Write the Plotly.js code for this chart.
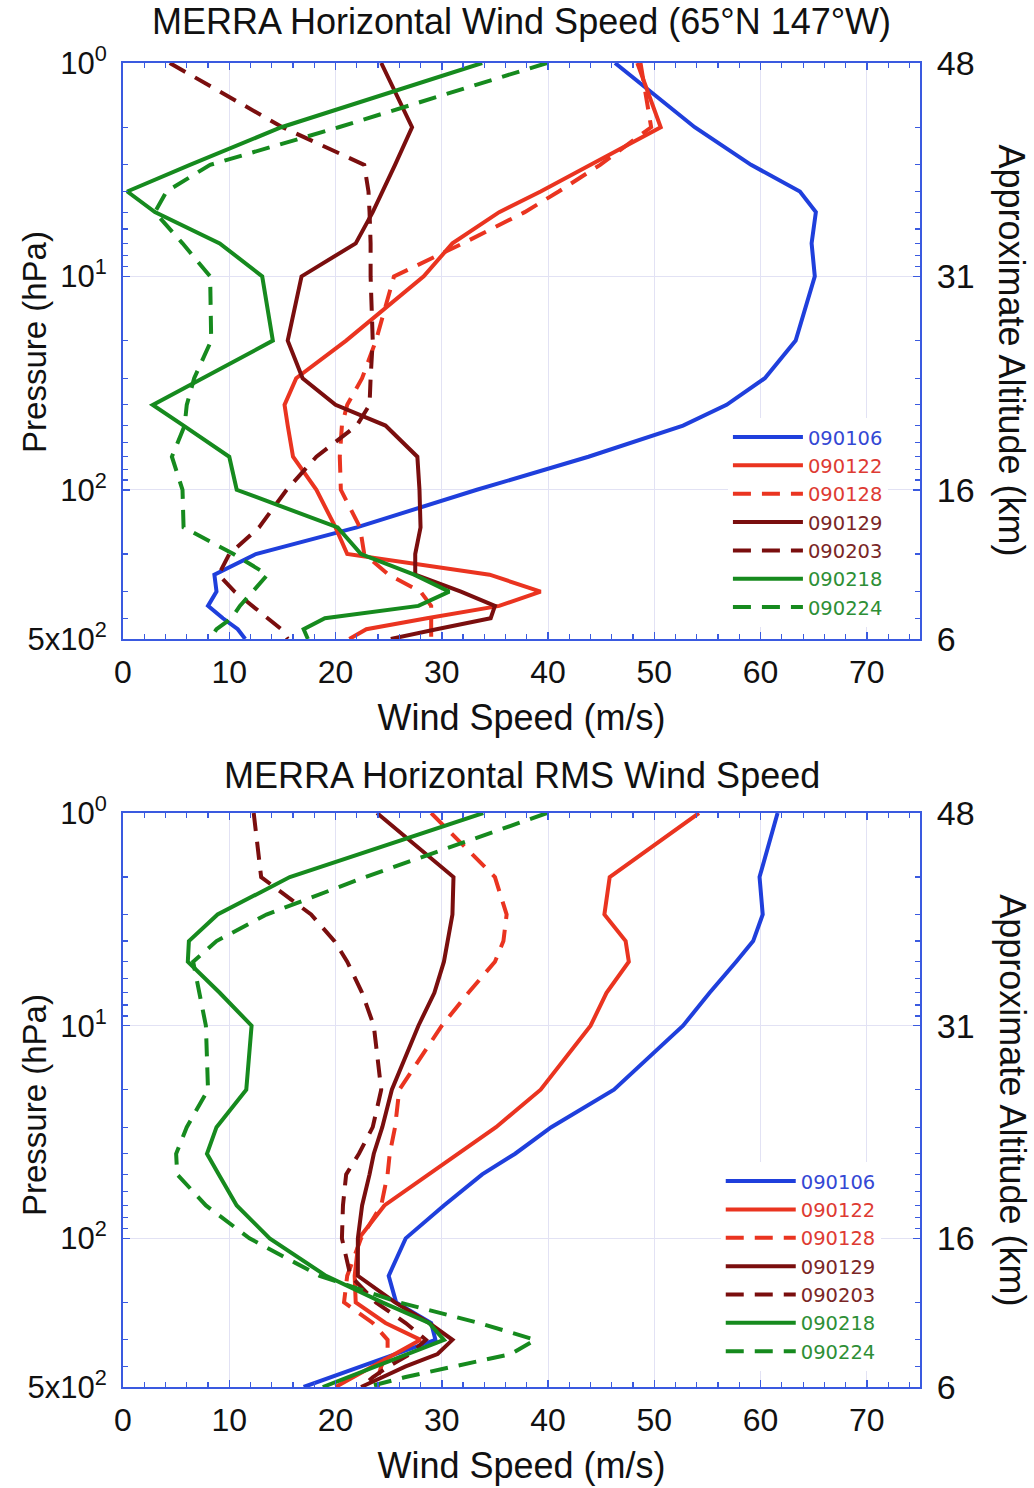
<!DOCTYPE html>
<html>
<head>
<meta charset="utf-8">
<script src="https://cdn.plot.ly/plotly-3.0.1.min.js"></script>
<style>html,body{margin:0;padding:0;background:#fff;}</style>
</head>
<body>
<div id="chart" style="width:1034px;height:1488px;"></div>
<script>
// Pressure levels (hPa)
const pressure = [1,2,3,4,5,7,10,20,30,40,50,70,100,150,200,250,300,350,400,450,500];

// Series names
const seriesNames = ['090106','090122','090128','090129','090203','090218','090224'];

// Top panel: MERRA horizontal wind speed (m/s)
const wind_090106 = [46.3,53.8,59.1,63.7,65.2,64.8,65.1,63.3,60.4,56.8,52.7,43.8,33.3,22.0,12.5,8.6,8.8,8.0,9.4,10.8,11.5];
const wind_090122 = [48.4,50.6,44.0,39.3,35.4,31.0,28.3,21.0,16.3,15.2,15.5,16.0,18.2,20.0,21.1,34.5,39.3,35.4,28.6,22.9,21.3];
const wind_090128 = [48.7,49.7,44.9,41.0,37.8,32.0,25.5,23.8,22.5,21.1,20.6,20.4,20.5,22.3,22.7,25.0,28.0,29.0,29.0,29.0,29.0];
const wind_090129 = [24.3,27.2,25.6,24.4,23.5,21.9,16.8,15.5,16.9,20.0,24.7,27.7,27.9,28.0,27.5,27.5,31.8,35.0,34.6,29.5,25.2];
const wind_090203 = [4.4,15.0,22.7,23.1,23.2,23.3,23.3,23.5,23.3,23.2,22.0,18.2,15.4,12.8,10.0,9.0,10.5,12.2,13.6,14.9,15.5];
const wind_090218 = [33.8,14.9,6.3,0.4,3.0,9.1,13.1,14.1,7.5,2.8,5.7,10.0,10.7,20.2,22.4,27.4,30.7,27.8,19.0,17.0,17.4];
const wind_090224 = [39.9,20.3,8.2,4.1,3.0,5.6,8.2,8.3,6.7,6.0,5.8,4.6,5.6,5.7,10.4,13.6,12.2,11.0,10.2,8.8,8.2];

// Bottom panel: MERRA horizontal RMS wind speed (m/s)
const rms_090106 = [61.6,59.9,60.2,59.3,57.7,55.2,52.7,46.2,40.3,36.9,33.8,30.2,26.6,25.0,25.7,29.0,29.4,25.7,22.5,19.7,17.0];
const rms_090122 = [54.2,45.8,45.3,47.3,47.6,45.5,44.0,39.3,35.1,31.5,28.8,24.6,22.2,21.8,21.9,24.7,28.0,25.6,23.5,21.7,20.0];
const rms_090128 = [29.0,35.0,36.1,35.8,35.0,32.5,30.0,26.0,25.6,25.1,24.9,24.3,22.4,21.1,20.8,23.5,24.9,24.9,24.3,24.0,24.0];
const rms_090129 = [23.9,31.1,31.0,30.5,30.2,29.3,27.8,25.3,24.4,23.6,23.2,22.5,22.1,22.1,25.6,28.8,31.0,29.6,26.6,24.4,22.4];
const rms_090203 = [12.3,13.0,17.7,19.9,21.1,22.5,23.6,24.3,23.5,22.2,21.0,20.7,20.6,21.4,23.8,26.6,28.5,27.0,25.0,23.5,22.5];
const rms_090218 = [33.9,15.7,8.9,6.2,6.1,9.1,12.1,11.6,8.8,7.9,9.0,10.7,13.8,19.1,24.4,28.8,30.2,26.8,23.9,21.3,18.8];
const rms_090224 = [39.9,22.8,13.5,8.8,6.6,7.2,7.8,8.0,6.0,5.0,5.1,7.8,11.9,18.5,26.0,33.5,38.8,36.5,31.0,26.5,23.0];

// Axis tick labels
const pressureTickVals = [1,10,100,500];
const pressureTickText = ['10<sup>0</sup>','10<sup>1</sup>','10<sup>2</sup>','5x10<sup>2</sup>'];
const altitudeTickText = ['48','31','16','6'];
const pressureMinorVals = [2,3,4,5,6,7,8,9,20,30,40,50,60,70,80,90,200,300,400];

const topSeries = [wind_090106,wind_090122,wind_090128,wind_090129,wind_090203,wind_090218,wind_090224];
const botSeries = [rms_090106,rms_090122,rms_090128,rms_090129,rms_090203,rms_090218,rms_090224];

// Styles
const colors = ['#1f3fdc','#ea3420','#ea3420','#7a0e0e','#7a0e0e','#168a1e','#168a1e'];
const textColors = ['#3448d4','#de3b33','#de3b33','#7a2626','#7a2626','#2e8f36','#2e8f36'];
const dashes = ['solid','solid','18px,11px','solid','18px,11px','solid','18px,11px'];
const BLUE = '#3a5ae0';
const GRID = '#e2e2f4';
const FONT = 'Liberation Sans, Arial, sans-serif';

const traces = [];
// the last series of each panel is drawn on the right-hand (altitude) axis,
// which shares the identical log pressure scale, so that axis gets rendered.
function addPanel(series, xa, ya, yaRight, legendId) {
  series.forEach((vals, i) => {
    traces.push({
      type: 'scatter', mode: 'lines',
      x: vals, y: pressure,
      xaxis: xa, yaxis: (i === series.length - 1) ? yaRight : ya,
      legend: legendId,
      name: '<span style="color:' + textColors[i] + '">' + seriesNames[i] + '</span>',
      line: {color: colors[i], width: 4, dash: dashes[i]},
      hoverinfo: 'x+y+name'
    });
  });
}
addPanel(topSeries, 'x', 'y', 'y3', 'legend');
addPanel(botSeries, 'x2', 'y2', 'y4', 'legend2');

const logRange = [Math.log10(500), 0];

function xAxis(anchor) {
  return {
    domain: [0, 1], anchor: anchor, range: [0, 75], autorange: false,
    tick0: 0, dtick: 10, ticks: 'inside', ticklen: 7, tickwidth: 1.5, tickcolor: BLUE,
    showline: true, linecolor: BLUE, linewidth: 2, mirror: 'ticks',
    showgrid: true, gridcolor: GRID, gridwidth: 1, zeroline: false,
    minor: {dtick: 2, ticks: 'inside', ticklen: 5, tickwidth: 1.2, tickcolor: BLUE, showgrid: false},
    tickfont: {family: FONT, size: 32, color: '#111'},
    ticklabelstandoff: 4,
    title: {text: 'Wind Speed (m/s)', font: {family: FONT, size: 36, color: '#111'}, standoff: 15},
    automargin: false
  };
}
function yAxis(domain, anchor) {
  return {
    domain: domain, anchor: anchor, type: 'log', range: logRange, autorange: false,
    tickmode: 'array', tickvals: pressureTickVals, ticktext: pressureTickText,
    ticks: 'inside', ticklen: 7, tickwidth: 1.5, tickcolor: BLUE,
    showline: true, linecolor: BLUE, linewidth: 2, mirror: 'ticks',
    showgrid: true, gridcolor: GRID, gridwidth: 1, zeroline: false,
    minor: {tickmode: 'array', tickvals: pressureMinorVals, ticks: 'inside', ticklen: 5, tickwidth: 1.2, tickcolor: BLUE, showgrid: false},
    tickfont: {family: FONT, size: 31, color: '#111'},
    ticklabelstandoff: 8,
    automargin: false
  };
}
function yRight(over, anchor) {
  return {
    overlaying: over, anchor: anchor, side: 'right', type: 'log', range: logRange, autorange: false,
    tickmode: 'array', tickvals: pressureTickVals, ticktext: altitudeTickText,
    ticks: 'inside', ticklen: 7, tickwidth: 1.5, tickcolor: BLUE,
    showline: true, linecolor: BLUE, linewidth: 2,
    showgrid: false, zeroline: false,
    minor: {tickmode: 'array', tickvals: pressureMinorVals, ticks: 'inside', ticklen: 5, tickwidth: 1.2, tickcolor: BLUE, showgrid: false},
    tickfont: {family: FONT, size: 34, color: '#111'},
    ticklabelstandoff: 8,
    automargin: false
  };
}

const legendBase = {
  xanchor: 'left', yanchor: 'top', bgcolor: 'rgba(255,255,255,1)', borderwidth: 0,
  font: {family: 'DejaVu Sans, sans-serif', size: 19.5, color: '#333'},
  itemwidth: 70, traceorder: 'normal', tracegroupgap: 0
};

const layout = {
  width: 1034, height: 1488,
  margin: {l: 123, r: 114, t: 63, b: 101, pad: 0},
  paper_bgcolor: '#ffffff', plot_bgcolor: '#ffffff',
  font: {family: FONT, color: '#111'},
  showlegend: true,
  xaxis: xAxis('y'),
  yaxis: yAxis([0.565, 1], 'x'),
  xaxis2: xAxis('y2'),
  yaxis2: yAxis([0, 0.4335], 'x2'),
  yaxis3: yRight('y', 'x'),
  yaxis4: yRight('y2', 'x2'),
  legend: Object.assign({}, legendBase, {x: 0.759, y: 0.7320}),
  legend2: Object.assign({}, legendBase, {x: 0.750, y: 0.1700}),
  annotations: [
    {text: 'MERRA Horizontal Wind Speed (65°N 147°W)', xref: 'paper', yref: 'paper', x: 0.5, y: 1.031,
     xanchor: 'center', yanchor: 'middle', showarrow: false, font: {family: FONT, size: 36, color: '#111'}},
    {text: 'MERRA Horizontal RMS Wind Speed', xref: 'paper', yref: 'paper', x: 0.5, y: 0.4615,
     xanchor: 'center', yanchor: 'middle', showarrow: false, font: {family: FONT, size: 36, color: '#111'}},
    {text: 'Pressure (hPa)', xref: 'paper', yref: 'paper', x: -0.1104, y: 0.7893, textangle: -90,
     xanchor: 'center', yanchor: 'middle', showarrow: false, font: {family: FONT, size: 33, color: '#111'}},
    {text: 'Pressure (hPa)', xref: 'paper', yref: 'paper', x: -0.1104, y: 0.2130, textangle: -90,
     xanchor: 'center', yanchor: 'middle', showarrow: false, font: {family: FONT, size: 33, color: '#111'}},
    {text: 'Approximate Altitude (km)', xref: 'paper', yref: 'paper', x: 1.115, y: 0.7832, textangle: 90,
     xanchor: 'center', yanchor: 'middle', showarrow: false, font: {family: FONT, size: 36, color: '#111'}},
    {text: 'Approximate Altitude (km)', xref: 'paper', yref: 'paper', x: 1.115, y: 0.2168, textangle: 90,
     xanchor: 'center', yanchor: 'middle', showarrow: false, font: {family: FONT, size: 36, color: '#111'}}
  ]
};

Plotly.newPlot('chart', traces, layout, {displayModeBar: false, staticPlot: true});
</script>
</body>
</html>
